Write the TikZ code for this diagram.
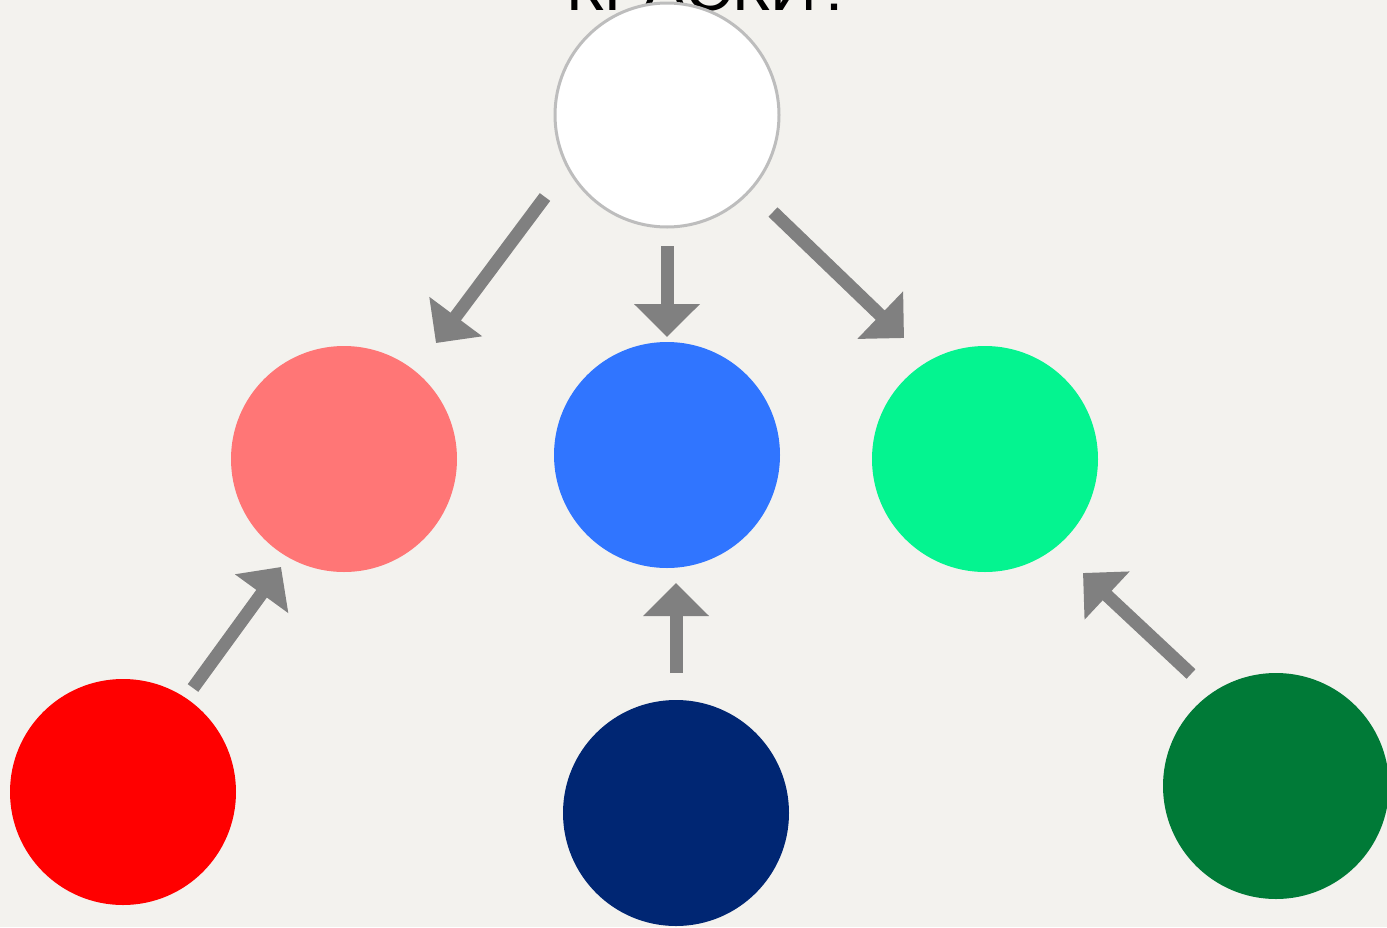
\documentclass[tikz,border=0pt]{standalone}
\usepackage{fontspec}
\setmainfont{Liberation Sans}
\usetikzlibrary{arrows.meta}
\definecolor{bg}{HTML}{F3F2EE}
\definecolor{cpink}{HTML}{FF7676}
\definecolor{cblue}{HTML}{3075FF}
\definecolor{cgreen}{HTML}{04F490}
\definecolor{cred}{HTML}{FF0000}
\definecolor{cnavy}{HTML}{002673}
\definecolor{cdgreen}{HTML}{007A37}
\definecolor{arrowgray}{HTML}{808080}
\definecolor{rimgray}{HTML}{BDBDBD}
\tikzset{
  blob/.style={circle, minimum size=226pt, inner sep=0pt, draw=none},
  mixarrow/.style={draw=arrowgray, line width=13pt,
    -{Triangle[length=33pt 0 0,width=64pt 0 0]}}
}
\begin{document}
\begin{tikzpicture}[x=1pt,y=-1pt]
\fill[bg] (0,0) rectangle (1387,927);
\useasboundingbox (0,0) rectangle (1387,927);
\node[anchor=base, font=\fontsize{65}{65}\selectfont, text=black] (title) at (710,10) {КРАСКИ?};
\node[blob, fill=white, draw=rimgray, line width=3pt, minimum size=224pt] (white) at (667,115) {};
\node[blob, fill=cpink] (pink) at (344,459) {};
\node[blob, fill=cblue] (blue) at (667,455) {};
\node[blob, fill=cgreen] (green) at (985,459) {};
\node[blob, fill=cred] (red) at (123,792) {};
\node[blob, fill=cnavy] (navy) at (676,813) {};
\node[blob, fill=cdgreen] (dgreen) at (1276,786) {};
% arrow ends
\coordinate (a1s) at (545,197); \coordinate (a1e) at (436,343);
\coordinate (a2s) at (667,246); \coordinate (a2e) at (667,337);
\coordinate (a3s) at (773,212); \coordinate (a3e) at (904,338);
\coordinate (a4s) at (193,688); \coordinate (a4e) at (281,567);
\coordinate (a5s) at (676,673); \coordinate (a5e) at (676,583);
\coordinate (a6s) at (1191,674); \coordinate (a6e) at (1083,573);
\draw[mixarrow] (a1s) -- (a1e);
\draw[mixarrow] (a2s) -- (a2e);
\draw[mixarrow] (a3s) -- (a3e);
\draw[mixarrow] (a4s) -- (a4e);
\draw[mixarrow] (a5s) -- (a5e);
\draw[mixarrow] (a6s) -- (a6e);
\end{tikzpicture}
\end{document}
